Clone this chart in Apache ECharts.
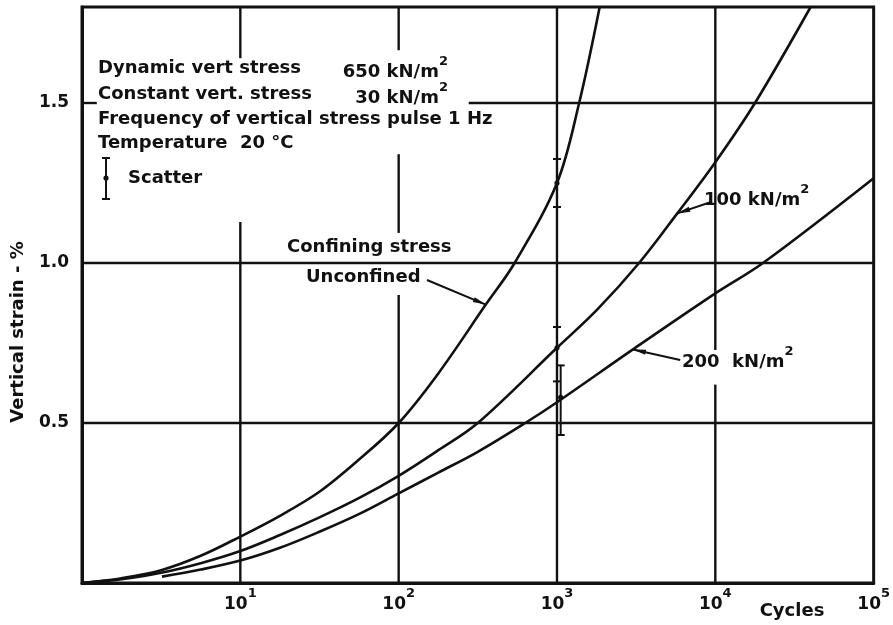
<!DOCTYPE html>
<html>
<head>
<meta charset="utf-8">
<script src="https://cdn.jsdelivr.net/npm/echarts@6/dist/echarts.min.js"></script>
<style>
  html, body { margin: 0; padding: 0; background: #fff; }
  #chart { width: 893px; height: 625px; }
</style>
</head>
<body>
<div id="chart"></div>
<script>
// Axis ranges and labelled ticks
const cycleRange = [1, 100000];
const strainRange = [0, 1.8];
const strainTickLabels = [0.5, 1.0, 1.5];

// Unconfined specimen
const unconfinedCycles = [1, 1.78, 3.16, 5.62, 10, 17.8, 31.6, 56, 100, 178, 355, 540, 1000, 1380, 1860];
const unconfinedStrain = [0, 0.015, 0.04, 0.085, 0.145, 0.21, 0.285, 0.385, 0.5, 0.655, 0.87, 1.0, 1.25, 1.5, 1.8];

// Confining stress 100 kN/m2
const conf100Cycles = [1, 1.78, 3.16, 5.62, 10, 17.8, 31.6, 56, 100, 178, 316, 1000, 1800, 3300, 5750, 10000, 17800, 40000];
const conf100Strain = [0, 0.012, 0.032, 0.062, 0.10, 0.15, 0.205, 0.265, 0.335, 0.415, 0.5, 0.735, 0.855, 1.0, 1.155, 1.315, 1.5, 1.8];

// Confining stress 200 kN/m2
const conf200Cycles = [3.2, 5.62, 10, 17.8, 31.6, 56, 100, 178, 316, 630, 1000, 3020, 10000, 20000, 100000];
const conf200Strain = [0.02, 0.042, 0.07, 0.11, 0.16, 0.215, 0.28, 0.345, 0.41, 0.5, 0.565, 0.73, 0.905, 1.0, 1.265];

// Scatter bands near 10^3 cycles: [cycles, low, high, centre]
const scatterBars = [
  [1000, 1.175, 1.325, 1.25],
  [1000, 0.63, 0.80, 0.735],
  [1055, 0.4625, 0.68, 0.58]
];

// Grid segments (broken where text sits): [x1, y1, x2, y2]
const gridSegments = [
  [10, 0, 10, 1.128], [10, 1.64, 10, 1.8],
  [100, 0, 100, 0.9], [100, 1.094, 100, 1.34], [100, 1.665, 100, 1.8],
  [1000, 0, 1000, 1.8],
  [10000, 0, 10000, 0.62], [10000, 0.728, 10000, 1.8],
  [1, 0.5, 100000, 0.5],
  [1, 1.0, 100000, 1.0],
  [277, 1.5, 100000, 1.5], [1, 1.5, 1.24, 1.5]
];

// Leader lines: [curve x, curve y, label x, label y]
const leaders = [
  [355, 0.87, 151, 0.947],
  [5750, 1.155, 9300, 1.19],
  [3020, 0.73, 6000, 0.697]
];

const FONT = 'DejaVu Sans';
const INK = '#111';
const TEXT_FONT = 'bold 18px "DejaVu Sans"';

function pairs(xs, ys) { return xs.map((x, i) => [x, ys[i]]); }

function curveSeries(name, xs, ys) {
  return {
    name: name, type: 'line', data: pairs(xs, ys),
    smooth: 0.35, showSymbol: false, silent: true,
    lineStyle: { color: INK, width: 2.6 }, z: 5
  };
}

// Rich text style for "kN/m²" style labels
function supText(str) {
  return {
    text: '{a|' + str + '}{s|2}',
    rich: {
      a: { fontFamily: FONT, fontWeight: 'bold', fontSize: 18, fill: INK, lineHeight: 26, verticalAlign: 'bottom' },
      s: { fontFamily: FONT, fontWeight: 'bold', fontSize: 13, fill: INK, lineHeight: 14, verticalAlign: 'top' }
    }
  };
}

const chart = echarts.init(document.getElementById('chart'), null, { renderer: 'canvas' });

const axisRich = {
  b: { fontFamily: FONT, fontWeight: 'bold', fontSize: 17, color: INK, lineHeight: 26, verticalAlign: 'bottom' },
  s: { fontFamily: FONT, fontWeight: 'bold', fontSize: 13, color: INK, lineHeight: 14, verticalAlign: 'top' }
};

chart.setOption({
  animation: false,
  backgroundColor: '#fff',
  grid: { left: 82, right: 17, top: 7, bottom: 42, show: true, borderColor: INK, borderWidth: 3 },
  xAxis: {
    type: 'log', logBase: 10, min: cycleRange[0], max: cycleRange[1],
    axisLine: { show: true, lineStyle: { color: INK, width: 3 } },
    axisTick: { show: false },
    splitLine: { show: false },
    axisLabel: {
      margin: 4,
      formatter: v => {
        const e = Math.round(Math.log10(v));
        return e === 0 ? '' : '{b|10}{s|' + e + '}';
      },
      rich: axisRich
    }
  },
  yAxis: {
    type: 'value', min: strainRange[0], max: strainRange[1], interval: 0.5,
    axisLine: { show: true, lineStyle: { color: INK, width: 3 } },
    axisTick: { show: false },
    splitLine: { show: false },
    axisLabel: {
      margin: 13, color: INK, fontFamily: FONT, fontWeight: 'bold', fontSize: 17,
      formatter: v => strainTickLabels.some(t => Math.abs(t - v) < 1e-9) ? v.toFixed(1) : ''
    }
  },
  series: [
    {
      type: 'custom', name: 'grid', silent: true, clip: false, z: 2,
      data: gridSegments,
      renderItem: (params, api) => {
        const a = api.coord([api.value(0), api.value(1)]);
        const b = api.coord([api.value(2), api.value(3)]);
        return { type: 'line', shape: { x1: a[0], y1: a[1], x2: b[0], y2: b[1] },
                 style: { stroke: INK, lineWidth: 2.4 } };
      }
    },
    curveSeries('Unconfined', unconfinedCycles, unconfinedStrain),
    curveSeries('100 kN/m2', conf100Cycles, conf100Strain),
    curveSeries('200 kN/m2', conf200Cycles, conf200Strain),
    {
      type: 'custom', name: 'scatter', silent: true, z: 6,
      data: scatterBars,
      renderItem: (params, api) => {
        const x = api.value(0);
        const lo = api.coord([x, api.value(1)]);
        const hi = api.coord([x, api.value(2)]);
        const mid = api.coord([x, api.value(3)]);
        const st = { stroke: INK, lineWidth: 2 };
        return { type: 'group', children: [
          { type: 'line', shape: { x1: lo[0], y1: lo[1], x2: hi[0], y2: hi[1] }, style: st },
          { type: 'line', shape: { x1: lo[0] - 4, y1: lo[1], x2: lo[0] + 4, y2: lo[1] }, style: st },
          { type: 'line', shape: { x1: hi[0] - 4, y1: hi[1], x2: hi[0] + 4, y2: hi[1] }, style: st },
          { type: 'circle', shape: { cx: mid[0], cy: mid[1], r: 2.6 }, style: { fill: INK } }
        ]};
      }
    },
    {
      type: 'custom', name: 'leaders', silent: true, z: 6,
      data: leaders,
      renderItem: (params, api) => {
        const p = api.coord([api.value(0), api.value(1)]);
        const q = api.coord([api.value(2), api.value(3)]);
        const dx = q[0] - p[0], dy = q[1] - p[1];
        const len = Math.hypot(dx, dy), ux = dx / len, uy = dy / len;
        const hl = 13, hw = 2.6;
        const bx = p[0] + ux * hl, by = p[1] + uy * hl;
        return { type: 'group', children: [
          { type: 'line', shape: { x1: p[0], y1: p[1], x2: q[0], y2: q[1] }, style: { stroke: INK, lineWidth: 2 } },
          { type: 'polygon', shape: { points: [[p[0], p[1]], [bx - uy * hw, by + ux * hw], [bx + uy * hw, by - ux * hw]] },
            style: { fill: INK } }
        ]};
      }
    }
  ],
  graphic: [
    { type: 'text', x: 98, y: 68, style: { text: 'Dynamic vert stress', font: TEXT_FONT, fill: INK, verticalAlign: 'middle' } },
    { type: 'text', x: 448, y: 68, style: Object.assign(supText('650 kN/m'), { align: 'right', verticalAlign: 'middle' }) },
    { type: 'text', x: 98, y: 94, style: { text: 'Constant vert. stress', font: TEXT_FONT, fill: INK, verticalAlign: 'middle' } },
    { type: 'text', x: 448, y: 94, style: Object.assign(supText('30 kN/m'), { align: 'right', verticalAlign: 'middle' }) },
    { type: 'text', x: 98, y: 119, style: { text: 'Frequency of vertical stress pulse 1 Hz', font: TEXT_FONT, fill: INK, verticalAlign: 'middle' } },
    { type: 'text', x: 98, y: 143, style: { text: 'Temperature  20 °C', font: TEXT_FONT, fill: INK, verticalAlign: 'middle' } },
    { type: 'group', children: [
      { type: 'line', shape: { x1: 106, y1: 158, x2: 106, y2: 199 }, style: { stroke: INK, lineWidth: 2 } },
      { type: 'line', shape: { x1: 102, y1: 158, x2: 110, y2: 158 }, style: { stroke: INK, lineWidth: 2 } },
      { type: 'line', shape: { x1: 102, y1: 199, x2: 110, y2: 199 }, style: { stroke: INK, lineWidth: 2 } },
      { type: 'circle', shape: { cx: 106, cy: 178, r: 2.6 }, style: { fill: INK } }
    ] },
    { type: 'text', x: 128, y: 178, style: { text: 'Scatter', font: TEXT_FONT, fill: INK, verticalAlign: 'middle' } },
    { type: 'text', x: 287, y: 247, style: { text: 'Confining stress', font: TEXT_FONT, fill: INK, verticalAlign: 'middle' } },
    { type: 'text', x: 306, y: 277, style: { text: 'Unconfined', font: TEXT_FONT, fill: INK, verticalAlign: 'middle' } },
    { type: 'text', x: 704, y: 196, style: Object.assign(supText('100 kN/m'), { verticalAlign: 'middle' }) },
    { type: 'text', x: 682, y: 358, style: Object.assign(supText('200  kN/m'), { verticalAlign: 'middle' }) },
    { type: 'text', x: 792, y: 611, style: { text: 'Cycles', font: TEXT_FONT, fill: INK, align: 'center', verticalAlign: 'middle' } },
    { type: 'text', x: 18, y: 332, rotation: Math.PI / 2,
      style: { text: 'Vertical strain - %', font: TEXT_FONT, fill: INK, align: 'center', verticalAlign: 'middle' } }
  ]
});
</script>
</body>
</html>
